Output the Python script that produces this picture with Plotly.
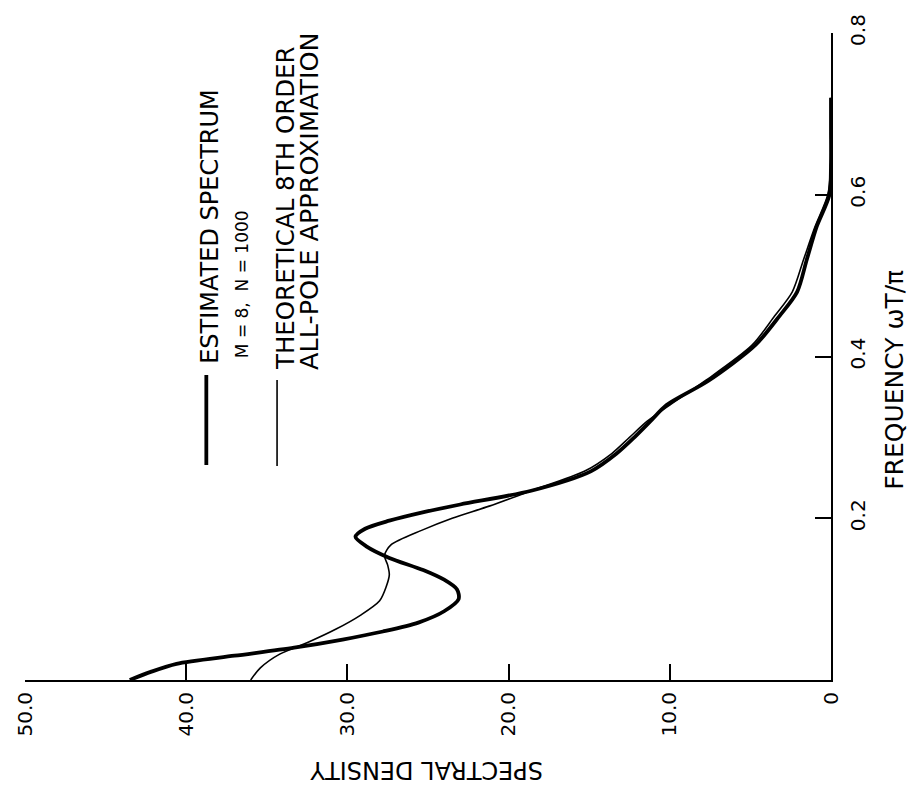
import plotly.graph_objects as go

# Frequency (omega*T/pi) and spectral density samples for each curve
est_freq = [0.0, 0.01, 0.02, 0.03, 0.04, 0.05, 0.06, 0.071, 0.085, 0.10, 0.112, 0.124,
            0.136, 0.151, 0.165, 0.177, 0.187, 0.197, 0.207, 0.217, 0.234, 0.258, 0.28,
            0.30, 0.32, 0.34, 0.37, 0.414, 0.45, 0.48, 0.52, 0.56, 0.60, 0.64, 0.68, 0.72]
est_density = [43.5, 42.2, 40.6, 37.0, 33.3, 30.3, 27.8, 25.6, 24.0, 23.1, 23.2, 24.0,
               25.3, 27.4, 28.8, 29.5, 28.9, 27.4, 25.4, 23.0, 18.6, 14.9, 13.3,
               12.2, 11.2, 10.2, 7.6, 4.7, 3.2, 2.1, 1.5, 0.9, 0.1, 0.0, 0.0, 0.0]

thy_freq = [0.0, 0.015, 0.032, 0.047, 0.063, 0.08, 0.098, 0.115, 0.130, 0.142, 0.154,
            0.167, 0.185, 0.20, 0.215, 0.234, 0.258, 0.28, 0.30, 0.32, 0.34, 0.37,
            0.414, 0.45, 0.48, 0.52, 0.56, 0.60, 0.64, 0.68, 0.72]
thy_density = [36.0, 35.4, 34.2, 32.4, 30.7, 29.2, 28.0, 27.6, 27.4, 27.5, 27.7,
               27.3, 25.4, 23.5, 21.2, 18.6, 15.3, 13.6, 12.5, 11.4, 10.0, 7.8,
               4.9, 3.5, 2.4, 1.7, 1.0, 0.2, 0.0, 0.0, 0.0]

density_ticks = [0, 10, 20, 30, 40, 50]
density_labels = ["0", "10.0", "20.0", "30.0", "40.0", "50.0"]
freq_ticks = [0.2, 0.4, 0.6, 0.8]
freq_labels = ["0.2", "0.4", "0.6", "0.8"]

legend_est = ["ESTIMATED SPECTRUM", "M = 8,  N = 1000"]
legend_thy = ["THEORETICAL 8TH ORDER", "ALL-POLE APPROXIMATION"]
density_title = "SPECTRAL DENSITY"
freq_title = "FREQUENCY ωT/π"

W, H = 919, 807
L, R, T, B = 22, 88, 33, 127
FONT = "DejaVu Sans"


def px(x):
    return (x - L) / (W - L - R)


def py(y):
    return (H - B - y) / (H - T - B)


fig = go.Figure()
fig.add_trace(go.Scatter(x=thy_density, y=thy_freq, mode="lines",
                         line=dict(color="black", width=1.6, shape="spline", smoothing=0.8),
                         hoverinfo="skip"))
fig.add_trace(go.Scatter(x=est_density, y=est_freq, mode="lines",
                         line=dict(color="black", width=3.8, shape="spline", smoothing=0.8),
                         hoverinfo="skip"))

fig.update_layout(
    width=W, height=H,
    margin=dict(l=L, r=R, t=T, b=B),
    paper_bgcolor="white", plot_bgcolor="white",
    showlegend=False,
    font=dict(family=FONT, color="black", size=16),
    xaxis=dict(range=[50, 0], tickvals=density_ticks, ticktext=density_labels,
               ticks="inside", ticklen=16, tickwidth=1.5, tickcolor="black",
               tickangle=-90, showgrid=False, zeroline=False,
               showline=True, linecolor="black", linewidth=2,
               ticklabelstandoff=2,
               tickfont=dict(family=FONT, size=20)),
    yaxis=dict(range=[0, 0.8], side="right", tickvals=freq_ticks, ticktext=freq_labels,
               ticks="inside", ticklen=16, tickwidth=1.5, tickcolor="black",
               tickangle=-90, showgrid=False, zeroline=False,
               showline=True, linecolor="black", linewidth=2,
               ticklabelstandoff=8,
               tickfont=dict(family=FONT, size=20)),
)

annos = [
    dict(text=density_title, x=px(425), y=py(786), textangle=180, font=dict(size=24)),
    dict(text=freq_title, x=px(894), y=py(380), textangle=-90, font=dict(size=25)),
    dict(text=legend_est[0], x=px(207), y=py(366), textangle=-90, yanchor="bottom", font=dict(size=24)),
    dict(text=legend_est[1], x=px(240), y=py(360), textangle=-90, yanchor="bottom", font=dict(size=17)),
    dict(text=legend_thy[0], x=px(283), y=py(372), textangle=-90, yanchor="bottom", font=dict(size=24.5)),
    dict(text=legend_thy[1], x=px(307), y=py(372), textangle=-90, yanchor="bottom", font=dict(size=25.5)),
]
for a in annos:
    fig.add_annotation(xref="paper", yref="paper", showarrow=False, xanchor="center", **a)

fig.add_shape(type="line", xref="paper", yref="paper", x0=px(204), x1=px(204),
              y0=py(375), y1=py(465), line=dict(color="black", width=3.8))
fig.add_shape(type="line", xref="paper", yref="paper", x0=px(275), x1=px(275),
              y0=py(380), y1=py(466), line=dict(color="black", width=1.6))

fig.write_html("out.html")
